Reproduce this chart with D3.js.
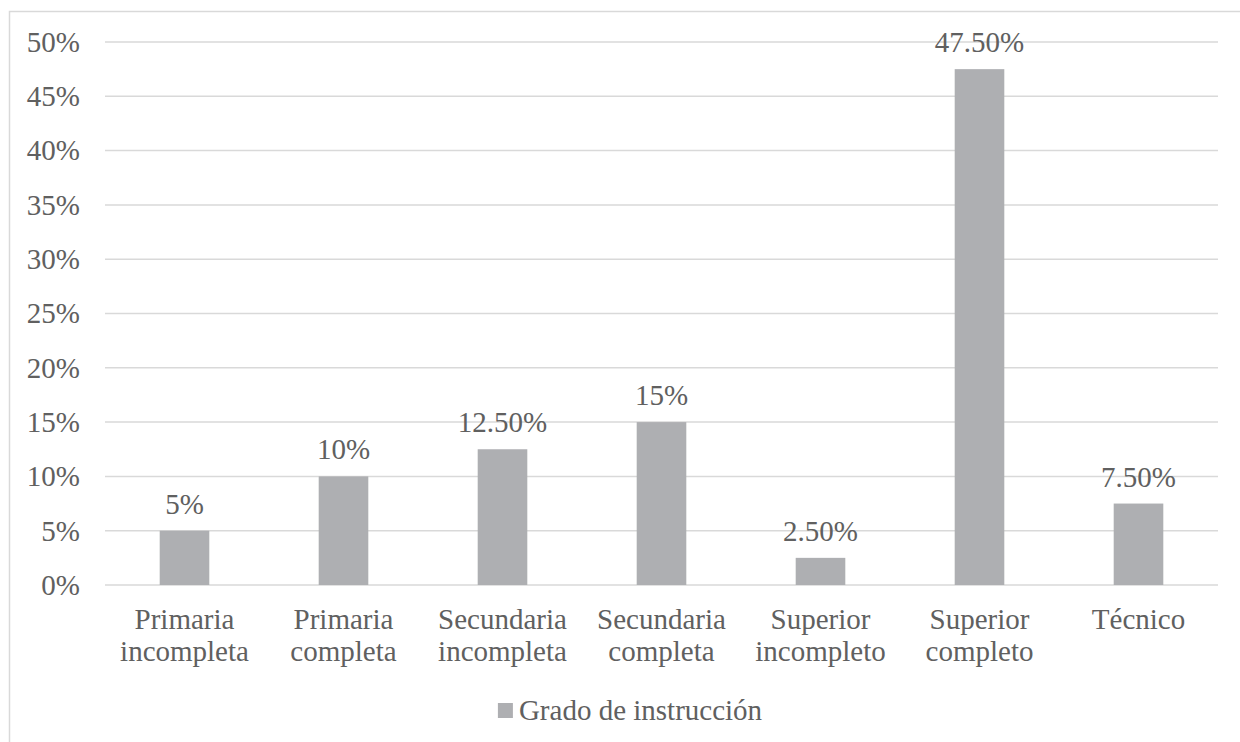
<!DOCTYPE html>
<meta charset="utf-8">
<script src="https://d3js.org/d3.v7.min.js"></script>
<style>
    body { margin: 0; background: #fff; }
</style>
<div id="chart"></div>

<script>
    // data
    const categories = [
        ["Primaria", "incompleta"],
        ["Primaria", "completa"],
        ["Secundaria", "incompleta"],
        ["Secundaria", "completa"],
        ["Superior", "incompleto"],
        ["Superior", "completo"],
        ["Técnico"]
    ];
    const values = [0.05, 0.10, 0.125, 0.15, 0.025, 0.475, 0.075];
    const valueLabels = ["5%", "10%", "12.50%", "15%", "2.50%", "47.50%", "7.50%"];
    const yTicks = [0, 0.05, 0.10, 0.15, 0.20, 0.25, 0.30, 0.35, 0.40, 0.45, 0.50];
    const seriesName = "Grado de instrucción";

    const W = 1240, H = 742;
    const margin = {top: 42, right: 22, bottom: 157, left: 105};
    const width = W - margin.left - margin.right,
        height = H - margin.top - margin.bottom;
    const FONT = "Liberation Serif";
    const TXT = "#606060";

    const svg = d3.select("#chart")
        .append("svg")
        .attr("width", W)
        .attr("height", H);

    // chart border (cut off at right/bottom in the original)
    svg.append("rect")
        .attr("x", 9.5).attr("y", 11.5)
        .attr("width", W + 20).attr("height", H + 20)
        .attr("fill", "none")
        .attr("stroke", "#d9d9d9")
        .attr("stroke-width", 1.5);

    const g = svg.append("g")
        .attr("transform", `translate(${margin.left}, ${margin.top})`);

    const x = d3.scaleBand()
        .domain(d3.range(categories.length))
        .range([0, width])
        .paddingInner(0.688)
        .paddingOuter(0.344);

    const y = d3.scaleLinear()
        .domain([0, 0.5])
        .range([height, 0]);

    // gridlines
    g.selectAll(".grid")
        .data(yTicks)
        .join("line")
        .attr("x1", 0).attr("x2", width)
        .attr("y1", d => y(d)).attr("y2", d => y(d))
        .attr("stroke", "#d9d9d9")
        .attr("stroke-width", 1.5);

    function styleText(sel) {
        sel.style("font-family", FONT)
            .style("font-size", "29px")
            .style("fill", TXT);
    }

    // y axis labels
    g.selectAll(".ylab")
        .data(yTicks)
        .join("text")
        .attr("x", -25)
        .attr("y", d => y(d))
        .attr("dy", "0.34em")
        .attr("text-anchor", "end")
        .call(styleText)
        .text(d => d3.format(".0%")(d));

    // bars
    g.selectAll(".bar")
        .data(values)
        .join("rect")
        .attr("x", (d, i) => x(i))
        .attr("y", d => y(d))
        .attr("width", x.bandwidth())
        .attr("height", d => height - y(d))
        .attr("fill", "#aeafb2");

    // value labels
    g.selectAll(".vlab")
        .data(values)
        .join("text")
        .attr("x", (d, i) => x(i) + x.bandwidth() / 2)
        .attr("y", d => y(d) - 17)
        .attr("text-anchor", "middle")
        .call(styleText)
        .text((d, i) => valueLabels[i]);

    // category labels
    g.selectAll(".xlab")
        .data(categories)
        .join("text")
        .attr("transform", (d, i) => `translate(${x(i) + x.bandwidth() / 2}, ${height + 44})`)
        .attr("text-anchor", "middle")
        .call(styleText)
        .selectAll("tspan")
        .data(d => d)
        .join("tspan")
        .attr("x", 0)
        .attr("dy", (d, j) => j === 0 ? 0 : 32)
        .text(d => d);

    // legend
    const legend = svg.append("g")
        .attr("transform", `translate(${W / 2 + 10}, 711)`);
    const legText = legend.append("text")
        .attr("x", 0)
        .attr("y", 9)
        .call(styleText)
        .text(seriesName);
    const tw = legText.node().getComputedTextLength();
    const total = 15 + 6 + tw;
    legText.attr("x", -total / 2 + 21);
    legend.append("rect")
        .attr("x", -total / 2)
        .attr("y", -8)
        .attr("width", 15)
        .attr("height", 15)
        .attr("fill", "#aeafb2");
</script>
